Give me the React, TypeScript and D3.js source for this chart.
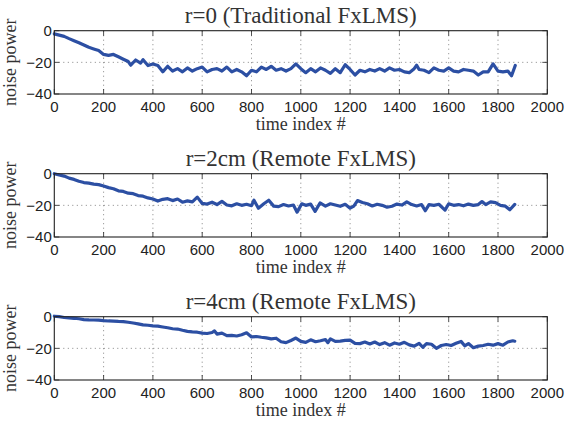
import React from "react";
import * as d3 from "d3";

const titles = ["r=0 (Traditional FxLMS)", "r=2cm (Remote FxLMS)", "r=4cm (Remote FxLMS)"];
const xTicks = [0, 200, 400, 600, 800, 1000, 1200, 1400, 1600, 1800, 2000];
const yTicks = [0, -20, -40];
const xLabel = "time index #";
const yLabel = "noise power";

const t1 = [0,20,40,60,80,100,120,140,160,180,200,220,240,260,280,300,310,330,350,360,380,400,420,440,460,480,500,520,540,560,580,600,620,640,660,680,700,720,740,760,780,800,820,840,860,880,900,920,940,960,980,1000,1020,1040,1060,1080,1100,1120,1140,1160,1180,1200,1220,1240,1260,1280,1300,1320,1340,1360,1380,1400,1420,1440,1460,1470,1480,1500,1520,1540,1560,1580,1600,1620,1640,1660,1680,1700,1720,1740,1760,1780,1800,1820,1840,1855,1870];
const v1 = [-2,-2.8,-3.6,-5,-6.3,-7.6,-9,-10.5,-11.5,-12.5,-15,-15.6,-15,-16.5,-18,-19.5,-21.8,-18.5,-20.5,-18.3,-22,-21,-22,-26,-22.5,-25.5,-24,-26,-23.5,-25.5,-24,-23,-26,-24.5,-24,-25.5,-23,-26,-24.5,-26,-28.5,-25,-26,-23,-24.5,-22.5,-25,-24,-25.5,-24,-21,-24,-26.5,-24,-26,-23.5,-25,-27,-24,-26.5,-21.5,-24.5,-28,-25,-26,-24.5,-25.5,-24,-25.5,-23.5,-25,-24.5,-26,-26.5,-24,-21.8,-24.5,-25,-26.5,-23.5,-25,-25.5,-23.5,-25.5,-26,-24.5,-25,-25.5,-28,-26,-26,-21,-25.5,-26,-25.5,-28.5,-22];

const t2 = [0,20,40,60,80,100,120,140,160,180,200,220,240,260,280,300,320,340,360,380,400,420,440,460,480,500,520,540,560,580,600,620,640,660,680,700,720,740,760,780,800,810,828,850,870,890,910,930,950,970,985,1004,1020,1040,1058,1078,1100,1120,1140,1160,1180,1200,1215,1230,1250,1270,1290,1310,1330,1350,1370,1390,1410,1430,1450,1470,1490,1505,1520,1540,1560,1585,1600,1620,1640,1660,1680,1700,1720,1735,1750,1770,1790,1810,1830,1848,1868];
const v2 = [0,-0.8,-1.5,-2.8,-3.6,-4.8,-5.6,-6,-6.6,-6.9,-7.8,-8.8,-9.5,-10.8,-11.2,-12.3,-12.6,-13.8,-14.2,-15.3,-16,-17.3,-16.2,-15.8,-17,-16,-18,-17.2,-17.8,-14.8,-18.8,-19.2,-18,-19.5,-17.5,-19.8,-20.3,-19,-20,-19.3,-20.2,-16.8,-21.8,-19,-16.8,-20.5,-20.8,-19.5,-20.4,-19.8,-24.3,-19,-20,-19.2,-23.8,-18.5,-20.5,-19,-19.8,-20.6,-19.3,-21.8,-20.5,-17,-18.2,-19,-20.4,-19.3,-20,-21.2,-20.6,-19.2,-19.8,-17.8,-19.5,-20.4,-19.5,-23.4,-19.5,-20,-19.3,-23,-19,-20,-19.5,-20.3,-19.2,-20,-19.5,-17.6,-19.5,-17.8,-18.3,-20,-20.5,-22.8,-19.4];

const t3 = [0,20,40,60,80,100,120,140,160,180,200,220,240,260,280,300,320,340,360,380,400,420,440,460,480,500,520,540,560,580,600,620,640,650,660,680,700,720,740,760,780,800,820,840,860,880,900,920,940,960,980,1000,1020,1040,1060,1080,1100,1110,1120,1140,1160,1180,1200,1220,1240,1260,1280,1300,1320,1340,1360,1380,1400,1420,1440,1460,1480,1495,1510,1530,1550,1570,1590,1610,1630,1650,1665,1680,1700,1720,1740,1760,1780,1800,1820,1840,1860,1868];
const v3 = [0.3,0,-0.5,-0.8,-1,-1.3,-1.8,-2,-2.1,-2.2,-2.5,-2.7,-2.8,-3,-3.1,-3.5,-4,-4.5,-5.2,-5.4,-5.8,-6,-6.5,-7,-7.6,-7.8,-8.6,-9.3,-9.6,-9.8,-10.4,-10.6,-10,-9,-11,-10.4,-12,-11.8,-12.2,-11.4,-10.2,-12.8,-12.5,-13,-13.4,-14,-13.6,-15.8,-16.4,-15,-13.5,-15.6,-16.2,-14.6,-15.8,-15.2,-14.4,-16.4,-14,-15.6,-15.4,-15,-14.8,-16.8,-17,-16,-17.2,-16,-17.6,-16.4,-18,-16.6,-17.4,-16.2,-17.8,-18.6,-16.8,-19.3,-17,-17.4,-20,-18.2,-17.6,-18.2,-16.8,-15.6,-18.4,-17,-19.6,-18.6,-18.2,-17.4,-18,-17,-18,-16,-15.2,-15.5];

const series = [
  { t: t1, v: v1 },
  { t: t2, v: v2 },
  { t: t3, v: v3 },
];

const W = 566;
const H = 423;
const LEFT = 54.3;
const RIGHT = 547.3;
const TOP0 = 30.7;
const PH = 63.3;
const STEP = 143;
const LINE_COLOR = "#2c4fa3";
const SANS = "Liberation Sans, Arial, Helvetica, sans-serif";
const SERIF = "Liberation Serif, Times New Roman, serif";

const fmt = (d: number) => (d < 0 ? "\u2212" + Math.abs(d) : String(d));

function Panel({ idx }: { idx: number }) {
  const top = TOP0 + idx * STEP;
  const bottom = top + PH;
  const x = d3.scaleLinear().domain([0, 2000]).range([LEFT, RIGHT]);
  const y = d3.scaleLinear().domain([-40, 0]).range([bottom, top]);
  const s = series[idx];
  const pts: [number, number][] = s.t.map((t, i) => [t, s.v[i]]);
  const line = d3
    .line<[number, number]>()
    .x((d) => x(d[0]))
    .y((d) => y(d[1]));
  const tick = 5;
  return (
    <g>
      {xTicks.slice(1, -1).map((t) => (
        <line key={"gx" + t} x1={x(t)} x2={x(t)} y1={top} y2={bottom} stroke="#666" strokeWidth={0.8} strokeDasharray="1,3.5" />
      ))}
      {yTicks.slice(1, -1).map((t) => (
        <line key={"gy" + t} x1={LEFT} x2={RIGHT} y1={y(t)} y2={y(t)} stroke="#666" strokeWidth={0.8} strokeDasharray="1,3.5" />
      ))}
      {xTicks.map((t) => (
        <g key={"tx" + t}>
          <line x1={x(t)} x2={x(t)} y1={bottom} y2={bottom - tick} stroke="#222" strokeWidth={0.8} />
          <line x1={x(t)} x2={x(t)} y1={top} y2={top + tick} stroke="#222" strokeWidth={0.8} />
          <text x={x(t)} y={bottom + 18} textAnchor="middle" style={{ fontFamily: SANS, fontSize: 15 }} fill="#222">
            {fmt(t)}
          </text>
        </g>
      ))}
      {yTicks.map((t) => (
        <g key={"ty" + t}>
          <line x1={LEFT} x2={LEFT + tick} y1={y(t)} y2={y(t)} stroke="#222" strokeWidth={0.8} />
          <line x1={RIGHT} x2={RIGHT - tick} y1={y(t)} y2={y(t)} stroke="#222" strokeWidth={0.8} />
          <text x={LEFT - 2.5} y={y(t)} dy="0.36em" textAnchor="end" style={{ fontFamily: SANS, fontSize: 15 }} fill="#222">
            {fmt(t)}
          </text>
        </g>
      ))}
      <path d={line(pts) || ""} fill="none" stroke={LINE_COLOR} strokeWidth={3.2} strokeLinejoin="round" strokeLinecap="round" />
      <rect x={LEFT} y={top} width={RIGHT - LEFT} height={PH} fill="none" stroke="#222" strokeWidth={1.1} />
      <text x={(LEFT + RIGHT) / 2} y={top - 8} textAnchor="middle" style={{ fontFamily: SERIF, fontSize: 23 }} fill="#333">
        {titles[idx]}
      </text>
      <text x={(LEFT + RIGHT) / 2} y={bottom + 36} textAnchor="middle" style={{ fontFamily: SERIF, fontSize: 18 }} fill="#333">
        {xLabel}
      </text>
      <text transform={`translate(16,${(top + bottom) / 2}) rotate(-90)`} textAnchor="middle" style={{ fontFamily: SERIF, fontSize: 18 }} fill="#333">
        {yLabel}
      </text>
    </g>
  );
}

export default function App() {
  return (
    <svg width={W} height={H} style={{ position: "absolute", left: 0, top: 0, background: "#fff" }}>
      <rect width={W} height={H} fill="#fff" />
      {[0, 1, 2].map((i) => (
        <Panel key={i} idx={i} />
      ))}
    </svg>
  );
}
